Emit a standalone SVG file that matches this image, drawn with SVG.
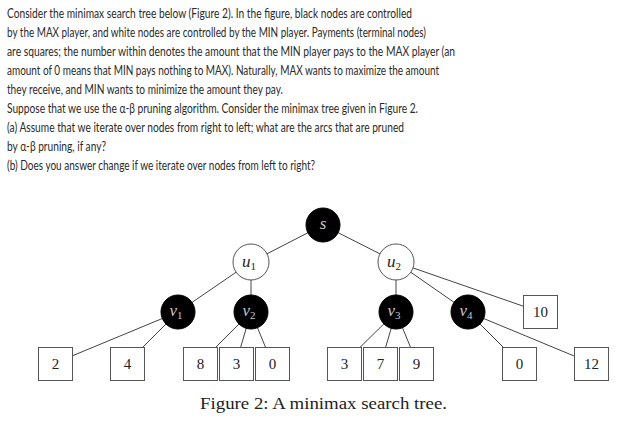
<svg xmlns="http://www.w3.org/2000/svg" width="620" height="430" viewBox="0 0 620 430">
<style>
.p{font-family:Lato,"Noto Sans",sans-serif;font-size:13px;fill:#2a2a2a}
.e{stroke:#444;stroke-width:1;fill:none}
.mx{fill:#000;stroke:#000}
.mn{fill:#fff;stroke:#555;stroke-width:1}
.lf{fill:#fff;stroke:#555;stroke-width:1}
.nl{font-family:"Liberation Serif",serif;font-style:italic;font-size:17px;text-anchor:middle}
.nlw{fill:#c8c8c8}
.nlb{fill:#222}
.sub{font-size:11px;font-style:normal}
.lv{font-family:"Liberation Serif",serif;font-size:15px;text-anchor:middle;fill:#222}
.cap{font-family:"Liberation Serif",serif;font-size:16px;fill:#222}
</style>
<rect width="620" height="430" fill="#fff"/>
<g id="text">
<text class="p" x="7" y="18" textLength="405" lengthAdjust="spacingAndGlyphs">Consider the minimax search tree below (Figure 2). In the figure, black nodes are controlled</text>
<text class="p" x="7" y="37" textLength="419" lengthAdjust="spacingAndGlyphs">by the MAX player, and white nodes are controlled by the MIN player. Payments (terminal nodes)</text>
<text class="p" x="7" y="56" textLength="448" lengthAdjust="spacingAndGlyphs">are squares; the number within denotes the amount that the MIN player pays to the MAX player (an</text>
<text class="p" x="7" y="75" textLength="432" lengthAdjust="spacingAndGlyphs">amount of 0 means that MIN pays nothing to MAX). Naturally, MAX wants to maximize the amount</text>
<text class="p" x="7" y="94" textLength="276" lengthAdjust="spacingAndGlyphs">they receive, and MIN wants to minimize the amount they pay.</text>
<text class="p" x="7" y="113" textLength="411" lengthAdjust="spacingAndGlyphs">Suppose that we use the α-β pruning algorithm. Consider the minimax tree given in Figure 2.</text>
<text class="p" x="7" y="132" textLength="397" lengthAdjust="spacingAndGlyphs">(a)  Assume that we iterate over nodes from right to left; what are the arcs that are pruned</text>
<text class="p" x="7" y="151" textLength="99" lengthAdjust="spacingAndGlyphs">by α-β pruning, if any?</text>
<text class="p" x="7" y="170" textLength="308" lengthAdjust="spacingAndGlyphs">(b) Does you answer change if we iterate over nodes from left to right?</text>
</g>
<g id="connectors">
<line class="e" x1="323" y1="225" x2="251" y2="262"/>
<line class="e" x1="323" y1="225" x2="396" y2="262"/>
<line class="e" x1="251" y1="262" x2="178" y2="312"/>
<line class="e" x1="251" y1="262" x2="251" y2="312"/>
<line class="e" x1="396" y1="262" x2="396" y2="312"/>
<line class="e" x1="396" y1="262" x2="468" y2="312"/>
<line class="e" x1="396" y1="262" x2="540" y2="312"/>
<line class="e" x1="178" y1="312" x2="55" y2="363"/>
<line class="e" x1="178" y1="312" x2="127" y2="363"/>
<line class="e" x1="251" y1="312" x2="200" y2="363"/>
<line class="e" x1="251" y1="312" x2="236" y2="363"/>
<line class="e" x1="251" y1="312" x2="272" y2="363"/>
<line class="e" x1="396" y1="312" x2="344" y2="363"/>
<line class="e" x1="396" y1="312" x2="381" y2="363"/>
<line class="e" x1="396" y1="312" x2="417" y2="363"/>
<line class="e" x1="468" y1="312" x2="519" y2="363"/>
<line class="e" x1="468" y1="312" x2="591" y2="363"/>
</g>
<g id="s"><circle class="mx" cx="323" cy="225" r="17"/><text class="nl nlw" x="323" y="229">s</text></g>
<g id="u1"><circle class="mn" cx="251" cy="262" r="18"/><text class="nl nlb" x="249" y="267">u<tspan class="sub" dy="3">1</tspan></text></g>
<g id="u2"><circle class="mn" cx="396" cy="262" r="18"/><text class="nl nlb" x="394" y="267">u<tspan class="sub" dy="3">2</tspan></text></g>
<g id="v1"><circle class="mx" cx="178" cy="312" r="17"/><text class="nl nlw" x="176" y="316">v<tspan class="sub" dy="3">1</tspan></text></g>
<g id="v2"><circle class="mx" cx="251" cy="312" r="17"/><text class="nl nlw" x="249" y="316">v<tspan class="sub" dy="3">2</tspan></text></g>
<g id="v3"><circle class="mx" cx="396" cy="312" r="17"/><text class="nl nlw" x="394" y="316">v<tspan class="sub" dy="3">3</tspan></text></g>
<g id="v4"><circle class="mx" cx="468" cy="312" r="17"/><text class="nl nlw" x="466" y="316">v<tspan class="sub" dy="3">4</tspan></text></g>
<g id="leaf2"><rect class="lf" x="38.5" y="347.5" width="34" height="33"/><text class="lv" x="55.5" y="369">2</text></g>
<g id="leaf4"><rect class="lf" x="110.5" y="347.5" width="34" height="33"/><text class="lv" x="127.5" y="369">4</text></g>
<g id="leaf8"><rect class="lf" x="183.5" y="347.5" width="34" height="33"/><text class="lv" x="200.5" y="369">8</text></g>
<g id="leaf3a"><rect class="lf" x="219.5" y="347.5" width="34" height="33"/><text class="lv" x="236.5" y="369">3</text></g>
<g id="leaf0a"><rect class="lf" x="255.5" y="347.5" width="34" height="33"/><text class="lv" x="272.5" y="369">0</text></g>
<g id="leaf3b"><rect class="lf" x="327.5" y="347.5" width="34" height="33"/><text class="lv" x="344.5" y="369">3</text></g>
<g id="leaf7"><rect class="lf" x="363.5" y="347.5" width="34" height="33"/><text class="lv" x="380.5" y="369">7</text></g>
<g id="leaf9"><rect class="lf" x="399.5" y="347.5" width="34" height="33"/><text class="lv" x="416.5" y="369">9</text></g>
<g id="leaf0b"><rect class="lf" x="502.5" y="347.5" width="34" height="33"/><text class="lv" x="519.5" y="369">0</text></g>
<g id="leaf12"><rect class="lf" x="574.5" y="347.5" width="34" height="33"/><text class="lv" x="591.5" y="369">12</text></g>
<g id="leaf10"><rect class="lf" x="523.5" y="295.5" width="34" height="33"/><text class="lv" x="540.5" y="317">10</text></g>
<text class="cap" x="200" y="409" textLength="247" lengthAdjust="spacingAndGlyphs">Figure 2: A minimax search tree.</text>
</svg>
